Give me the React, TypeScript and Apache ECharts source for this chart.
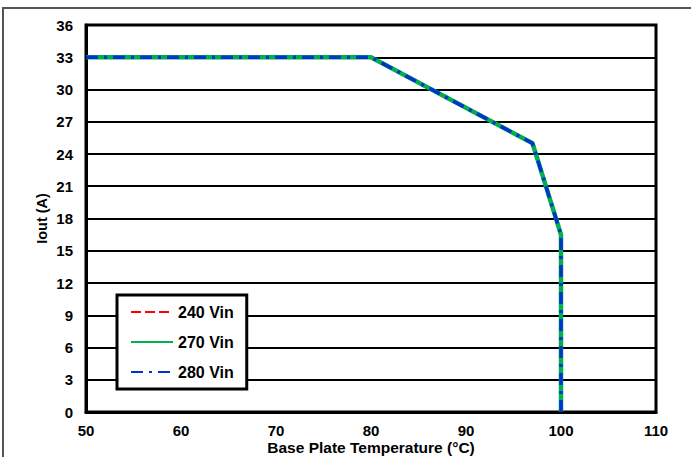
import React, { useEffect, useRef } from "react";
import * as echarts from "echarts";

const temp240 = [50, 80, 97, 100, 100];
const iout240 = [33, 33, 25, 16.5, 0];
const temp270 = [50, 80, 97, 100, 100];
const iout270 = [33, 33, 25, 16.5, 0];
const temp280 = [50, 80, 97, 100, 100];
const iout280 = [33, 33, 25, 16.5, 0];
const seriesNames = ["240 Vin", "270 Vin", "280 Vin"];

const zip = (xs: number[], ys: number[]) => xs.map((x, i) => [x, ys[i]]);

export default function App() {
  const ref = useRef<HTMLDivElement>(null);
  useEffect(() => {
    if (!ref.current) return;
    const chart = echarts.init(ref.current, null, { renderer: "svg" });
    const font = "'Liberation Sans', Arial, sans-serif";
    chart.setOption({
      animation: false,
      backgroundColor: "#ffffff",
      textStyle: { fontFamily: font },
      graphic: [
        {
          type: "rect",
          shape: { x: 3, y: 8, width: 720, height: 480 },
          style: { fill: "none", stroke: "#555555", lineWidth: 2 },
          silent: true,
          z: -10,
        },
      ],
      grid: {
        left: 86,
        top: 25,
        right: 35,
        bottom: 45,
        containLabel: false,
        outerBoundsMode: "none",
        show: true,
        borderColor: "#000",
        borderWidth: 3,
        backgroundColor: "transparent",
      },
      legend: {
        orient: "vertical",
        left: 117,
        top: 295,
        itemWidth: 42,
        itemHeight: 12,
        itemGap: 14,
        padding: [9, 13, 9, 13],
        borderColor: "#000",
        borderWidth: 3,
        backgroundColor: "#fff",
        itemStyle: { opacity: 0 },
        textStyle: { fontFamily: font, fontWeight: "bold", fontSize: 16, color: "#000" },
        data: seriesNames,
      },
      xAxis: {
        type: "value",
        min: 50,
        max: 110,
        interval: 10,
        name: "Base Plate Temperature (°C)",
        nameLocation: "middle",
        nameGap: 27,
        nameMoveOverlap: false,
        nameTextStyle: { fontFamily: font, fontWeight: "bold", fontSize: 15.5, lineHeight: 16, color: "#000" },
        axisLine: { show: true, lineStyle: { color: "#000", width: 3 } },
        axisTick: { show: false },
        splitLine: { show: false },
        axisLabel: { fontFamily: font, fontWeight: "bold", fontSize: 15, color: "#000", margin: 11 },
      },
      yAxis: {
        type: "value",
        min: 0,
        max: 36,
        interval: 3,
        name: "Iout (A)",
        nameLocation: "middle",
        nameGap: 37,
        nameMoveOverlap: false,
        nameTextStyle: { fontFamily: font, fontWeight: "bold", fontSize: 14.5, color: "#000" },
        axisLine: { show: true, lineStyle: { color: "#000", width: 3 } },
        axisTick: { show: false },
        splitLine: { show: true, lineStyle: { color: "#000", width: 2 } },
        axisLabel: { fontFamily: font, fontWeight: "bold", fontSize: 15, color: "#000", margin: 13 },
      },
      series: [
        {
          name: seriesNames[0],
          type: "line",
          data: zip(temp240, iout240),
          showSymbol: false,
          symbol: "none",
          lineStyle: { color: "#ff0000", width: 3.5, type: [10, 4] },
          itemStyle: { color: "#ff0000" },
          z: 3,
        },
        {
          name: seriesNames[1],
          type: "line",
          data: zip(temp270, iout270),
          showSymbol: false,
          symbol: "none",
          lineStyle: { color: "#00b050", width: 4.5, type: "solid" },
          itemStyle: { color: "#00b050" },
          z: 4,
        },
        {
          name: seriesNames[2],
          type: "line",
          data: zip(temp280, iout280),
          showSymbol: false,
          symbol: "none",
          lineStyle: { color: "#0033cc", width: 3.5, type: [12, 6, 3, 6] },
          itemStyle: { color: "#0033cc" },
          z: 5,
        },
      ],
    });
    return () => chart.dispose();
  }, []);
  return (
    <div
      ref={ref}
      style={{ position: "absolute", left: 0, top: 0, width: 691, height: 457 }}
    />
  );
}
